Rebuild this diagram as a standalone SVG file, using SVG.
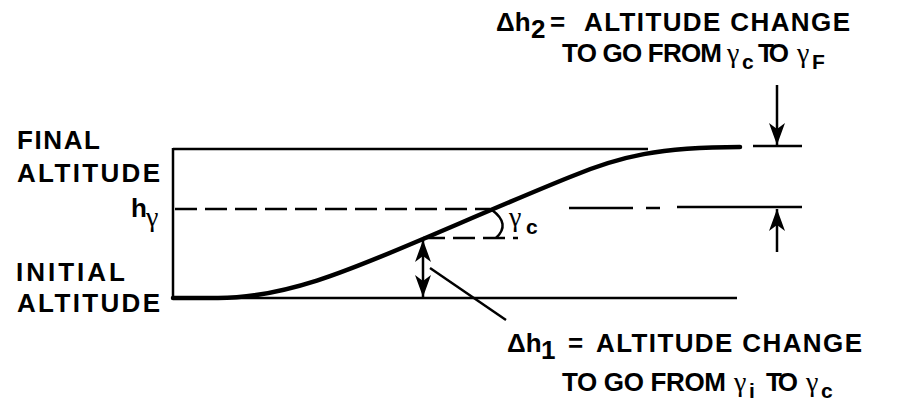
<svg xmlns="http://www.w3.org/2000/svg" width="903" height="405" viewBox="0 0 903 405">
  <style>
    .lbl { font-family: "Liberation Sans", Arial, sans-serif; font-weight: bold; font-size: 26px; fill: #000; }
    .sub { font-family: "Liberation Sans", Arial, sans-serif; font-weight: bold; font-size: 21px; fill: #000; }
    .gr { font-family: "Liberation Serif", "Times New Roman", serif; font-size: 28px; fill: #000; }
    .ln { stroke: #000; fill: none; stroke-width: 2.5; }
    .dash { stroke: #000; fill: none; stroke-width: 2.5; stroke-dasharray: 22 8; }
  </style>
  <defs>
    <marker id="ah" viewBox="0 0 22 16" refX="22" refY="8" markerWidth="22" markerHeight="16" markerUnits="userSpaceOnUse" orient="auto-start-reverse">
      <path d="M0,0 L22,8 L0,16 L6,8 z" fill="#000"/>
    </marker>
  </defs>

  <g id="frame">
    <path class="ln" d="M173,149 H648" stroke-width="3"/>
    <path class="ln" d="M173,148 V298" stroke-width="3"/>
    <path class="ln" d="M173,298 H737"/>
  </g>

  <g id="h-gamma-level">
    <path class="dash" d="M175,209 H490"/>
    <path class="ln" d="M569,208 H633 M646,208 H660 M677,207 H802"/>
  </g>

  <g id="final-ref">
    <path class="ln" d="M753,146 H802"/>
  </g>

  <g id="trajectory">
    <path d="M173,298 L218,298 C285,298 350,270 423,239 C470,219 530,193 570,177 C620,156 660,147 740,147" stroke="#000" stroke-width="4.5" fill="none" stroke-linecap="round"/>
  </g>

  <g id="gamma-c-angle">
    <path class="dash" d="M423,238 H518" stroke-dasharray="22 10"/>
    <path class="ln" d="M492,210 Q511,224 496,238"/>
    <text class="gr" x="509" y="226">γ</text>
    <text class="sub" x="526" y="234">c</text>
  </g>

  <g id="connectors">
    <path class="ln" d="M423,240 V297" marker-start="url(#ah)" marker-end="url(#ah)"/>
    <path class="ln" d="M777,85 V145" marker-end="url(#ah)"/>
    <path class="ln" d="M777,252 V209" marker-end="url(#ah)"/>
    <path class="ln" d="M430,268 L506,320" stroke-width="2"/>
  </g>

  <g id="label-final">
    <text class="lbl" x="17" y="149" textLength="83" lengthAdjust="spacing">FINAL</text>
    <text class="lbl" x="17" y="182" textLength="143" lengthAdjust="spacing">ALTITUDE</text>
  </g>

  <g id="label-hgamma">
    <text class="lbl" x="131" y="217">h</text>
    <text class="gr" x="146" y="226" font-size="24">γ</text>
  </g>

  <g id="label-initial">
    <text class="lbl" x="16" y="281" textLength="109" lengthAdjust="spacing">INITIAL</text>
    <text class="lbl" x="17" y="312" textLength="143" lengthAdjust="spacing">ALTITUDE</text>
  </g>

  <g id="label-dh2">
    <text class="lbl" x="496" y="31">Δh</text>
    <text class="lbl" x="531" y="38" font-size="22">2</text>
    <text class="lbl" x="550" y="31">=</text>
    <text class="lbl" x="584" y="31" textLength="266" lengthAdjust="spacing">ALTITUDE CHANGE</text>
    <text class="lbl" x="562" y="62" textLength="160" lengthAdjust="spacing">TO GO FROM</text>
    <text class="gr" x="727" y="62">γ</text>
    <text class="sub" x="742" y="69">c</text>
    <text class="lbl" x="758" y="62" textLength="31" lengthAdjust="spacing">TO</text>
    <text class="gr" x="797" y="62">γ</text>
    <text class="sub" x="812" y="69">F</text>
  </g>

  <g id="label-dh1">
    <text class="lbl" x="507" y="352">Δh</text>
    <text class="lbl" x="541" y="359" font-size="22">1</text>
    <text class="lbl" x="568" y="352">=</text>
    <text class="lbl" x="596" y="352" textLength="266" lengthAdjust="spacing">ALTITUDE CHANGE</text>
    <text class="lbl" x="562" y="391" textLength="164" lengthAdjust="spacing">TO GO FROM</text>
    <text class="gr" x="734" y="391">γ</text>
    <text class="sub" x="749" y="398">i</text>
    <text class="lbl" x="766" y="391" textLength="32" lengthAdjust="spacing">TO</text>
    <text class="gr" x="806" y="391">γ</text>
    <text class="sub" x="821" y="398">c</text>
  </g>
</svg>
